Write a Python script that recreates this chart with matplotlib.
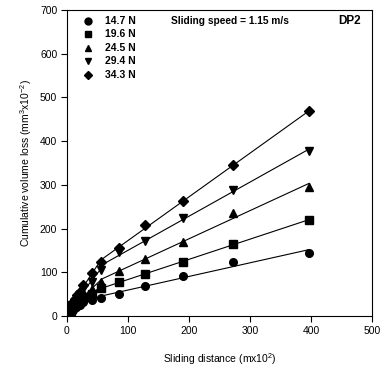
import numpy as np
import matplotlib
matplotlib.use('Agg')
import matplotlib.pyplot as plt

plt.rcParams['font.family'] = ['Liberation Sans', 'DejaVu Sans']
plt.rcParams['mathtext.default'] = 'regular'

# ---- data ----
distance = [3, 6, 9, 13, 17, 21, 26, 41, 55, 86, 128, 190, 273, 397]
loads = ['14.7 N', '19.6 N', '24.5 N', '29.4 N', '34.3 N']
markers = ['o', 's', '^', 'v', 'D']
vol_147 = [6, 10, 14, 18, 22, 26, 33, 37, 42, 51, 69, 92, 123, 144]
vol_196 = [8, 12, 17, 22, 28, 34, 44, 50, 63, 78, 95, 124, 165, 220]
vol_245 = [10, 15, 20, 26, 33, 40, 52, 62, 78, 104, 131, 170, 235, 296]
vol_294 = [12, 18, 25, 32, 40, 48, 62, 78, 106, 146, 172, 224, 288, 378]
vol_343 = [15, 22, 30, 38, 47, 56, 70, 98, 124, 156, 208, 263, 345, 468]
series = [vol_147, vol_196, vol_245, vol_294, vol_343]
BREAK = 55  # run-in / steady-state split for the fitted lines

fig = plt.figure(figsize=(3.85, 3.69), dpi=100)
ax = fig.add_axes([0.174, 0.1436, 0.792, 0.8294])

x = np.array(distance, dtype=float)
for vals, m in zip(series, markers):
    y = np.array(vals, dtype=float)
    ms = {'o': 5.5, 's': 5.2, '^': 6, 'v': 6, 'D': 5.5}[m]
    ax.plot(x, y, ls='none', marker=m, color='black', ms=ms, zorder=3)
    # two linear fits: run-in and steady state
    for sel in (x <= BREAK, x >= BREAK):
        p = np.polyfit(x[sel], y[sel], 1)
        xs = np.array([x[sel].min(), x[sel].max()])
        if sel[0]:
            xs[0] = 0
        ax.plot(xs, np.polyval(p, xs), color='black', lw=0.8, zorder=2)

ax.set_xlim(0, 500)
ax.set_ylim(0, 700)
ax.set_xticks(range(0, 501, 100))
ax.set_yticks(range(0, 701, 100))
ax.tick_params(direction='out', length=4, width=0.8, labelsize=7.5, pad=3)
for s in ax.spines.values():
    s.set_linewidth(0.8)

ax.set_xlabel('Sliding distance (mx10$^{2}$)', fontsize=7.5, labelpad=11)
ax.set_ylabel('Cumulative volume loss (mm$^{3}$x10$^{-2}$)', fontsize=7.5,
              labelpad=4)

# legend drawn as marker + bold text rows
for i, (lab, m) in enumerate(zip(loads, markers)):
    yy = 0.965 - i * 0.0444
    ax.plot([0.07], [yy], transform=ax.transAxes, marker=m, color='black',
            ms=5 if m != 'D' else 4.5, ls='none', clip_on=False)
    ax.text(0.125, yy, lab, transform=ax.transAxes, fontsize=7.5,
            fontweight='bold', va='center', ha='left')

ax.text(0.34, 0.965, 'Sliding speed = 1.15 m/s', transform=ax.transAxes,
        fontsize=7.3, fontweight='bold', va='center', ha='left')
ax.text(0.965, 0.965, 'DP2', transform=ax.transAxes, fontsize=8.5,
        fontweight='bold', va='center', ha='right')

fig.savefig('out.png', dpi=100)
